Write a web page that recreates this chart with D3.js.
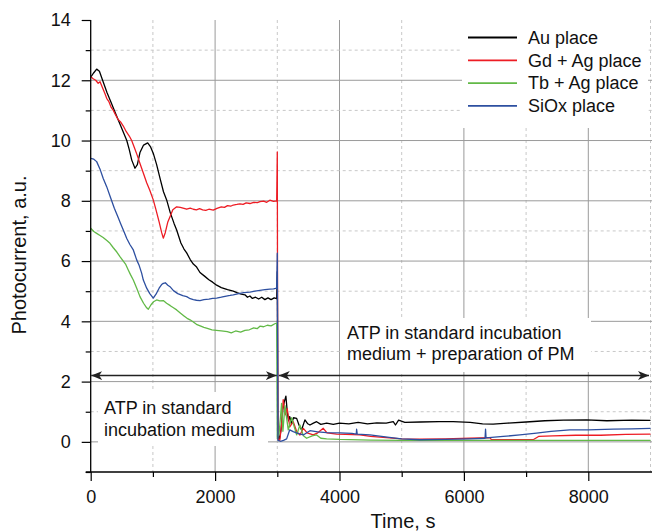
<!DOCTYPE html>
<html>
<head>
<meta charset="utf-8">
<script src="https://cdn.jsdelivr.net/npm/d3@7"></script>
<style>
  body { margin: 0; background: #fff; }
  svg { display: block; font-family: "Liberation Sans", Arial, sans-serif; }
</style>
</head>
<body>
<div id="chart"></div>
<script>
// photocurrent traces, [time s, photocurrent a.u.]
const auPlace = [
  [0,12.1],[50,12.25],[96,12.37],[140,12.3],[200,11.95],[260,11.6],[320,11.3],[400,10.9],[470,10.55],
  [530,10.25],[580,10.0],[620,9.7],[660,9.35],[712,9.08],[750,9.2],[792,9.6],[850,9.85],[916,9.92],
  [960,9.8],[1010,9.55],[1060,9.2],[1120,8.7],[1170,8.3],[1221,8.03],[1280,7.6],[1340,7.25],[1382,7.03],
  [1450,6.6],[1500,6.4],[1543,6.27],[1600,6.05],[1650,5.9],[1703,5.8],[1757,5.62],[1830,5.5],[1900,5.38],
  [1960,5.3],[2025,5.2],[2100,5.12],[2200,5.05],[2292,5.0],[2350,4.95],[2420,4.9],[2480,4.88],[2520,4.8],
  [2560,4.84],[2600,4.76],[2650,4.8],[2700,4.74],[2750,4.8],[2800,4.72],[2850,4.78],[2900,4.72],[2950,4.78],
  [2990,4.75],[3000,5.65],[3010,0.3],[3030,0.05],[3060,0.4],[3090,1.1],[3110,1.3],[3138,1.52],[3160,1.0],
  [3180,0.7],[3200,0.84],[3230,0.6],[3260,0.8],[3311,0.78],[3350,0.55],[3391,0.4],[3444,0.73],[3490,0.6],
  [3525,0.56],[3580,0.62],[3632,0.67],[3700,0.58],[3793,0.62],[3900,0.58],[4000,0.62],[4150,0.6],[4300,0.65],
  [4450,0.6],[4600,0.63],[4750,0.62],[4864,0.67],[4900,0.56],[4950,0.72],[5050,0.65],[5300,0.66],
  [5600,0.67],[5828,0.67],[6100,0.65],[6300,0.6],[6470,0.59],[6700,0.62],[7000,0.66],[7300,0.7],
  [7600,0.72],[7971,0.73],[8300,0.7],[8700,0.72],[9000,0.71]
];
const gdAgPlace = [
  [0,12.12],[40,12.05],[80,12.0],[120,11.9],[150,11.95],[190,11.75],[230,11.55],[257,11.4],[290,11.3],
  [330,11.1],[364,11.0],[400,10.85],[440,10.7],[480,10.62],[524,10.48],[570,10.3],[620,10.15],[659,10.0],
  [700,9.78],[750,9.5],[792,9.24],[850,8.9],[900,8.6],[950,8.35],[1006,8.03],[1050,7.7],[1100,7.3],
  [1140,6.95],[1167,6.76],[1200,6.95],[1240,7.3],[1275,7.47],[1320,7.7],[1382,7.8],[1440,7.78],[1500,7.75],
  [1543,7.72],[1600,7.76],[1650,7.72],[1700,7.7],[1750,7.74],[1800,7.7],[1850,7.68],[1900,7.72],[1970,7.69],
  [2030,7.75],[2100,7.8],[2150,7.78],[2200,7.84],[2250,7.82],[2292,7.86],[2350,7.88],[2400,7.9],[2450,7.88],
  [2500,7.93],[2560,7.91],[2620,7.95],[2680,7.94],[2721,7.97],[2780,7.99],[2830,7.95],[2880,8.02],
  [2940,7.98],[2990,8.0],[3000,9.62],[3008,0.1],[3040,0.05],[3070,0.6],[3095,1.4],[3130,0.9],[3160,1.1],
  [3200,0.5],[3256,0.67],[3310,0.35],[3364,0.23],[3418,0.45],[3480,0.3],[3578,0.23],[3650,0.3],[3739,0.45],
  [3800,0.3],[3953,0.26],[4100,0.25],[4328,0.23],[4500,0.18],[4800,0.13],[5000,0.1],[5293,0.09],[5700,0.1],
  [6096,0.12],[6420,0.14],[6444,0.07],[6800,0.07],[7114,0.07],[7200,0.18],[7431,0.2],[7800,0.22],
  [8200,0.22],[8600,0.25],[9000,0.26]
];
const tbAgPlace = [
  [0,7.09],[50,6.98],[96,6.92],[150,6.85],[200,6.78],[260,6.68],[310,6.59],[360,6.45],[420,6.3],[470,6.15],
  [524,6.0],[560,5.9],[600,5.72],[640,5.55],[685,5.37],[740,5.1],[792,4.82],[850,4.6],[900,4.45],[926,4.4],
  [970,4.55],[1010,4.65],[1060,4.71],[1110,4.68],[1167,4.69],[1220,4.6],[1280,4.52],[1330,4.45],[1382,4.38],
  [1440,4.28],[1500,4.18],[1550,4.1],[1597,4.05],[1650,3.98],[1700,3.9],[1760,3.85],[1820,3.8],[1875,3.77],
  [1950,3.72],[2020,3.7],[2100,3.68],[2196,3.66],[2260,3.62],[2330,3.68],[2410,3.64],[2480,3.7],[2550,3.72],
  [2620,3.78],[2680,3.76],[2721,3.84],[2780,3.82],[2840,3.87],[2900,3.85],[2960,3.92],[2990,3.94],
  [3000,0.1],[3030,0.3],[3069,1.28],[3090,0.35],[3123,1.2],[3176,0.4],[3230,0.8],[3311,0.23],[3364,0.56],
  [3420,0.2],[3471,0.12],[3560,0.2],[3632,0.23],[3700,0.12],[3793,0.1],[4000,0.08],[4500,0.06],[5000,0.05],
  [6000,0.05],[7000,0.05],[8000,0.05],[9000,0.05]
];
const siOxPlace = [
  [0,9.41],[50,9.38],[96,9.3],[150,9.05],[200,8.75],[257,8.47],[320,8.1],[380,7.75],[440,7.45],[480,7.25],
  [524,7.03],[580,6.75],[630,6.55],[685,6.37],[739,6.04],[780,5.85],[819,5.6],[846,5.37],[900,5.1],
  [950,4.92],[1006,4.77],[1050,4.9],[1100,5.1],[1140,5.22],[1167,5.26],[1200,5.28],[1240,5.2],[1275,5.15],
  [1330,5.02],[1400,4.92],[1480,4.85],[1543,4.82],[1600,4.75],[1650,4.72],[1700,4.7],[1757,4.69],
  [1820,4.72],[1900,4.74],[1960,4.76],[2025,4.77],[2100,4.8],[2180,4.84],[2240,4.86],[2292,4.88],
  [2380,4.92],[2460,4.95],[2560,4.97],[2640,5.0],[2720,5.03],[2800,5.05],[2880,5.07],[2940,5.08],
  [2990,5.1],[3000,6.26],[3010,0.05],[3050,0.02],[3100,0.05],[3150,0.1],[3200,0.4],[3256,0.34],[3330,0.28],
  [3418,0.23],[3525,0.37],[3650,0.33],[3793,0.31],[4007,0.3],[4200,0.28],[4270,0.26],[4275,0.42],
  [4285,0.26],[4489,0.23],[4800,0.15],[5000,0.1],[5293,0.07],[5700,0.08],[6096,0.1],[6340,0.12],
  [6348,0.42],[6356,0.13],[6632,0.18],[6900,0.23],[7168,0.29],[7400,0.35],[7704,0.4],[8000,0.4],
  [8400,0.42],[8700,0.43],[9000,0.45]
];

const seriesNames = ['Au place', 'Gd + Ag place', 'Tb + Ag place', 'SiOx place'];
const seriesColors = ['#000000', '#ed1c24', '#62b947', '#2d4fa0'];
const seriesData = [auPlace, gdAgPlace, tbAgPlace, siOxPlace];

const xMajorTicks = [0, 2000, 4000, 6000, 8000];
const xMinorTicks = [1000, 3000, 5000, 7000, 9000];
const yMajorTicks = [0, 2, 4, 6, 8, 10, 12, 14];
const yMinorTicks = [-1, 1, 3, 5, 7, 9, 11, 13];

// phase arrows [from, to] in s, at photocurrent level
const phaseSpans = [[0, 3000], [3000, 9000]];
const arrowLevel = 2.2;
const phase1Label = ['ATP in standard', 'incubation medium'];
const phase2Label = ['ATP in standard incubation', 'medium + preparation of PM'];

const W = 652, H = 532;
const x = d3.scaleLinear().domain([0, 9000]).range([90.7, 650.5]);
const y = d3.scaleLinear().domain([-1, 14]).range([472, 20]);

const svg = d3.select('#chart').append('svg').attr('width', W).attr('height', H);

svg.append('defs').append('clipPath').attr('id', 'plot-clip')
  .append('rect')
  .attr('x', x(0)).attr('y', y(14))
  .attr('width', x(9000) - x(0) + 2).attr('height', y(-1) - y(14));

// grid
const grid = svg.append('g');
grid.selectAll('.vmaj').data(xMajorTicks.filter(d => d > 0)).enter().append('line')
  .attr('x1', d => x(d)).attr('x2', d => x(d)).attr('y1', y(14)).attr('y2', y(-1))
  .attr('stroke', '#9a9a9a').attr('stroke-width', 1);
grid.selectAll('.vmin').data(xMinorTicks).enter().append('line')
  .attr('x1', d => x(d)).attr('x2', d => x(d)).attr('y1', y(14)).attr('y2', y(-1))
  .attr('stroke', '#c8c8c8').attr('stroke-width', 1).attr('stroke-dasharray', '3,3');
grid.selectAll('.hmaj').data(yMajorTicks.filter(d => d < 14)).enter().append('line')
  .attr('x1', x(0)).attr('x2', W).attr('y1', d => y(d)).attr('y2', d => y(d))
  .attr('stroke', '#9a9a9a').attr('stroke-width', 1);
grid.selectAll('.hmin').data(yMinorTicks.filter(d => d > 0)).enter().append('line')
  .attr('x1', x(0)).attr('x2', W).attr('y1', d => y(d)).attr('y2', d => y(d))
  .attr('stroke', '#c8c8c8').attr('stroke-width', 1).attr('stroke-dasharray', '3,3');

// white boxes behind annotations and legend
const boxes = [[98, 392, 170, 54], [340, 318, 251, 54], [462, 20, 186, 108]];
svg.selectAll('.box').data(boxes).enter().append('rect')
  .attr('x', d => d[0]).attr('y', d => d[1]).attr('width', d => d[2]).attr('height', d => d[3])
  .attr('fill', '#fff');

// traces
const line = d3.line().x(d => x(d[0])).y(d => y(d[1]));
const traces = svg.append('g').attr('clip-path', 'url(#plot-clip)');
seriesData.forEach((s, i) => {
  traces.append('path').datum(s)
    .attr('d', line)
    .attr('fill', 'none')
    .attr('stroke', seriesColors[i])
    .attr('stroke-width', 1.3)
    .attr('stroke-linejoin', 'round');
});

// axes
const axisX = svg.append('g').attr('transform', `translate(0,${y(-1)})`);
axisX.call(d3.axisBottom(x).tickValues(xMajorTicks).tickSize(9).tickPadding(9).tickFormat(d3.format('d')));
axisX.append('g').call(d3.axisBottom(x).tickValues(xMinorTicks.filter(d => d < 9000)).tickSize(5).tickFormat(''));
const axisY = svg.append('g').attr('transform', `translate(${x(0)},0)`);
axisY.call(d3.axisLeft(y).tickValues(yMajorTicks).tickSize(9).tickPadding(11));
axisY.append('g').call(d3.axisLeft(y).tickValues(yMinorTicks).tickSize(5).tickFormat(''));
[axisX, axisY].forEach(a => {
  a.selectAll('.domain').remove();
  a.selectAll('line').attr('stroke', '#000').attr('stroke-width', 1.2);
  a.selectAll('text').attr('fill', '#111').style('font-size', '18px')
    .style('font-family', '"Liberation Sans", Arial, sans-serif');
});
svg.append('line').attr('x1', x(0) - 5).attr('x2', W).attr('y1', y(-1)).attr('y2', y(-1))
  .attr('stroke', '#000').attr('stroke-width', 1.3);
svg.append('line').attr('x1', x(0)).attr('x2', x(0)).attr('y1', y(14)).attr('y2', y(-1))
  .attr('stroke', '#000').attr('stroke-width', 1.3);

// axis titles
svg.append('text').attr('x', 403).attr('y', 528).attr('text-anchor', 'middle')
  .style('font-size', '20px').attr('fill', '#111').text('Time, s');
svg.append('text').attr('transform', 'translate(26,255) rotate(-90)').attr('text-anchor', 'middle')
  .style('font-size', '20px').attr('fill', '#111').text('Photocurrent, a.u.');

// phase arrows
const defs = svg.select('defs');
defs.append('marker').attr('id', 'head')
  .attr('viewBox', '-11 -5 12 10').attr('refX', 0).attr('refY', 0)
  .attr('markerWidth', 12).attr('markerHeight', 10).attr('markerUnits', 'userSpaceOnUse')
  .attr('orient', 'auto-start-reverse')
  .append('path').attr('d', 'M0,0 L-11,-4.5 L-8,0 L-11,4.5 Z').attr('fill', '#222');
svg.selectAll('.phase').data(phaseSpans).enter().append('line')
  .attr('x1', (d, i) => x(d[0]) + (i === 0 ? 0.5 : 1.5))
  .attr('x2', (d, i) => x(d[1]) - (i === 0 ? 0.5 : 1.5))
  .attr('y1', y(arrowLevel)).attr('y2', y(arrowLevel))
  .attr('stroke', '#222').attr('stroke-width', 1.5)
  .attr('marker-start', 'url(#head)').attr('marker-end', 'url(#head)');

// annotation text
const note1 = svg.append('text').attr('x', 104).attr('y', 414).style('font-size', '18px').attr('fill', '#111');
phase1Label.forEach((t, i) => note1.append('tspan').attr('x', 104).attr('dy', i ? 21.7 : 0).text(t));
const note2 = svg.append('text').attr('x', 347).attr('y', 339).style('font-size', '18px').attr('fill', '#111');
phase2Label.forEach((t, i) => note2.append('tspan').attr('x', 347).attr('dy', i ? 21 : 0).text(t));

// legend
const legend = svg.append('g');
seriesNames.forEach((name, i) => {
  const ly = 37.5 + i * 22.8;
  legend.append('line').attr('x1', 468).attr('x2', 517).attr('y1', ly).attr('y2', ly)
    .attr('stroke', seriesColors[i]).attr('stroke-width', 1.8);
  legend.append('text').attr('x', 528).attr('y', ly).attr('dy', '0.35em')
    .style('font-size', '18px').attr('fill', '#111').text(name);
});
</script>
</body>
</html>
